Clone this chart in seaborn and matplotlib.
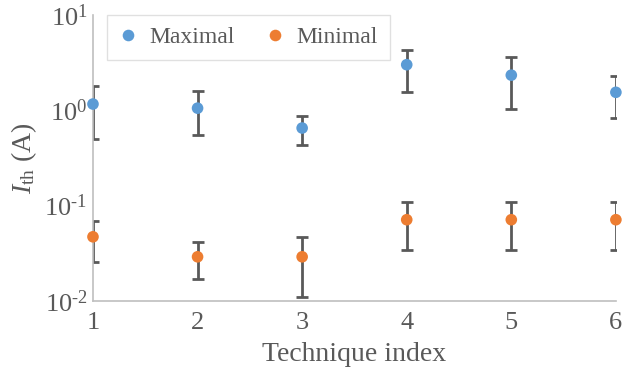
import numpy as np
import pandas as pd
import matplotlib
matplotlib.use("Agg")
import matplotlib.pyplot as plt
import seaborn as sns

technique = [1, 2, 3, 4, 5, 6]
max_val = [1.16, 1.05, 0.65, 3.0, 2.33, 1.54]
max_hi = [1.78, 1.58, 0.86, 4.3, 3.6, 2.27]
max_lo = [0.50, 0.55, 0.43, 1.54, 1.02, 0.82]
min_val = [0.047, 0.029, 0.029, 0.071, 0.071, 0.071]
min_hi = [0.069, 0.041, 0.047, 0.109, 0.109, 0.109]
min_lo = [0.0255, 0.017, 0.011, 0.034, 0.034, 0.034]
ytick_labels = [r"10$^{\text{-}2}$", r"10$^{\text{-}1}$",
                r"10$^{\mathrm{0}}$", r"10$^{\mathrm{1}}$"]

df = pd.DataFrame({
    "technique": technique * 2,
    "value": max_val + min_val,
    "kind": ["Maximal"] * 6 + ["Minimal"] * 6,
})

sns.set_style("white")
plt.rcParams["font.family"] = ["Liberation Serif", "DejaVu Serif"]
plt.rcParams["mathtext.fontset"] = "custom"
plt.rcParams["mathtext.rm"] = "Liberation Serif"
plt.rcParams["mathtext.it"] = "Liberation Serif:italic"
txt = "#595959"
grey = "#BFBFBF"

fig = plt.figure(figsize=(6.24, 3.71), dpi=100)
ax = fig.add_axes([0.149, 0.189, 0.838, 0.771])

for v, hi, lo in [(max_val, max_hi, max_lo), (min_val, min_hi, min_lo)]:
    v = np.array(v)
    err = [v - np.array(lo), np.array(hi) - v]
    ax.errorbar(technique, v, yerr=err, fmt="none", ecolor="#595959",
                elinewidth=2, capsize=4, capthick=2, zorder=2)

sns.scatterplot(data=df, x="technique", y="value", hue="kind",
                palette=["#5B9BD5", "#ED7D31"], s=70, edgecolor="none",
                ax=ax, zorder=3, clip_on=False)

ax.set_yscale("log")
ax.set_ylim(0.01, 10)
ax.set_xlim(1, 6)
ax.set_xticks(technique)
ax.set_yticks([0.01, 0.1, 1, 10])
ax.set_yticklabels(ytick_labels)
ax.minorticks_off()
ax.tick_params(direction="in", length=7, color=grey, labelcolor=txt,
               labelsize=19, pad=4)
ax.tick_params(axis="x", pad=8)
for side in ["top", "right"]:
    ax.spines[side].set_visible(False)
for side in ["left", "bottom"]:
    ax.spines[side].set_color(grey)
    ax.spines[side].set_linewidth(1.2)

ax.set_xlabel("Technique index", fontsize=20, color=txt, labelpad=6)
ax.set_ylabel(r"$I_{\mathrm{th}}$ (A)", fontsize=20, color=txt, labelpad=4)

leg = ax.legend(loc="upper left", ncol=2, fontsize=17, frameon=True,
                fancybox=False, edgecolor="#D9D9D9", borderaxespad=0.0,
                bbox_to_anchor=(0.027, 1.0), handletextpad=0.5,
                handlelength=0.8, columnspacing=1.3, markerscale=1.0,
                borderpad=0.5)
for t in leg.get_texts():
    t.set_color(txt)

fig.savefig("out.png", dpi=100)
